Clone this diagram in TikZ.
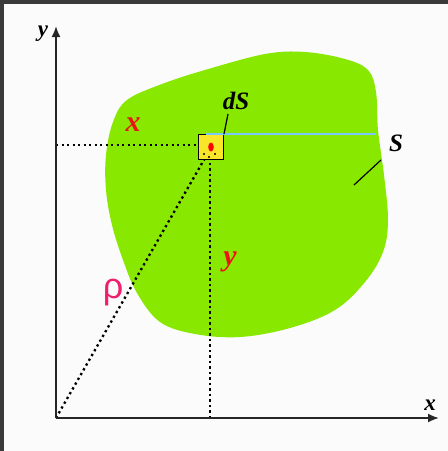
\documentclass[tikz,border=0pt]{standalone}
\usepackage{fontspec}
\setmainfont{Liberation Serif}[BoldItalicFont={Liberation Serif Bold Italic}, BoldFont={Liberation Serif Bold}]
\newfontfamily\rhofont{Liberation Sans}
\newfontfamily\bifont{Liberation Serif Bold Italic}
\usetikzlibrary{arrows.meta}
\definecolor{blobgreen}{RGB}{137,232,0}
\definecolor{frameg}{RGB}{58,58,58}
\definecolor{bgw}{RGB}{251,251,251}
\definecolor{lblred}{RGB}{235,20,20}
\definecolor{rhopink}{RGB}{240,30,110}
\definecolor{ltblue}{RGB}{120,200,255}
\definecolor{boxyellow}{RGB}{250,230,40}
\tikzset{
  axis/.style={line width=1.8pt, draw=black!85, -{Latex[length=11pt,width=9pt]}},
  dotline/.style={line width=2.3pt, dash pattern=on 2.3pt off 3.2pt},
  leader/.style={line width=1.2pt},
  lbl/.style={font=\bifont\fontsize{30}{30}\selectfont, inner sep=0pt},
  blk/.style={font=\bifont\fontsize{25}{25}\selectfont, inner sep=0pt},
  axl/.style={font=\bifont\fontsize{23}{23}\selectfont, inner sep=0pt},
}
\begin{document}
\begin{tikzpicture}[x=1pt,y=-1pt]
\useasboundingbox (0,0) rectangle (448,451);
\fill[bgw] (0,0) rectangle (448,451);
\fill[frameg] (0,0) rectangle (448,4);
\fill[frameg] (0,0) rectangle (4,451);
% blob
\fill[blobgreen] plot[smooth cycle, tension=0.6] coordinates {
 (127,100) (162,84) (205,70) (265,54) (305,52) (345,59) (368,70) (376,92)
 (378,130) (384,175) (388,220) (383,252) (365,282) (335,310) (290,328)
 (240,337) (195,334) (160,322) (137,293) (123,260) (112,225) (106,190)
 (106,155) (113,122)};
% coordinates
\coordinate (O) at (56,418);
\coordinate (ytip) at (56,26);
\coordinate (xtip) at (439,418);
\coordinate (yax) at (56,145);
\coordinate (xfoot) at (210,418);
\coordinate (bluend) at (376,134);
% dotted lines
\draw[dotline] (yax) -- (199,145);
\draw[dotline] (O) -- (205,158);
\draw[dotline] (xfoot) -- (210,158);
% box
\node[draw=black, line width=1pt, fill=boxyellow, minimum width=25pt, minimum height=25pt, inner sep=0pt] (dS) at (211,147) {};
\fill[red] (dS.center) ellipse (2.8pt and 4.5pt);
\fill[black] (204,154) circle (1.2pt) (209,157) circle (1.2pt) (215,154) circle (1.2pt);
\draw[ltblue, line width=2pt] (206,134) -- (bluend);
% axes
\draw[axis] (O) -- (ytip);
\draw[axis] (O) -- (xtip);
% labels
\node[axl] (ylab) at (43,34) {y};
\node[axl] (xlab) at (430,405) {x};
\node[lbl, text=lblred] (xred) at (133,125) {x};
\node[lbl, text=lblred] (yred) at (230,262) {y};
\node[inner sep=0pt, text=rhopink, font=\rhofont\fontsize{36}{36}\selectfont] (rho) at (113,293) {ρ};
\node[blk] (dSlab) at (236,101) {dS};
\node[blk] (Slab) at (396,143) {S};
\draw[leader] (228,114) -- (dS.north east);
\coordinate (Spt) at (354,185);
\draw[leader] (381,160) -- (Spt);
\end{tikzpicture}
\end{document}
